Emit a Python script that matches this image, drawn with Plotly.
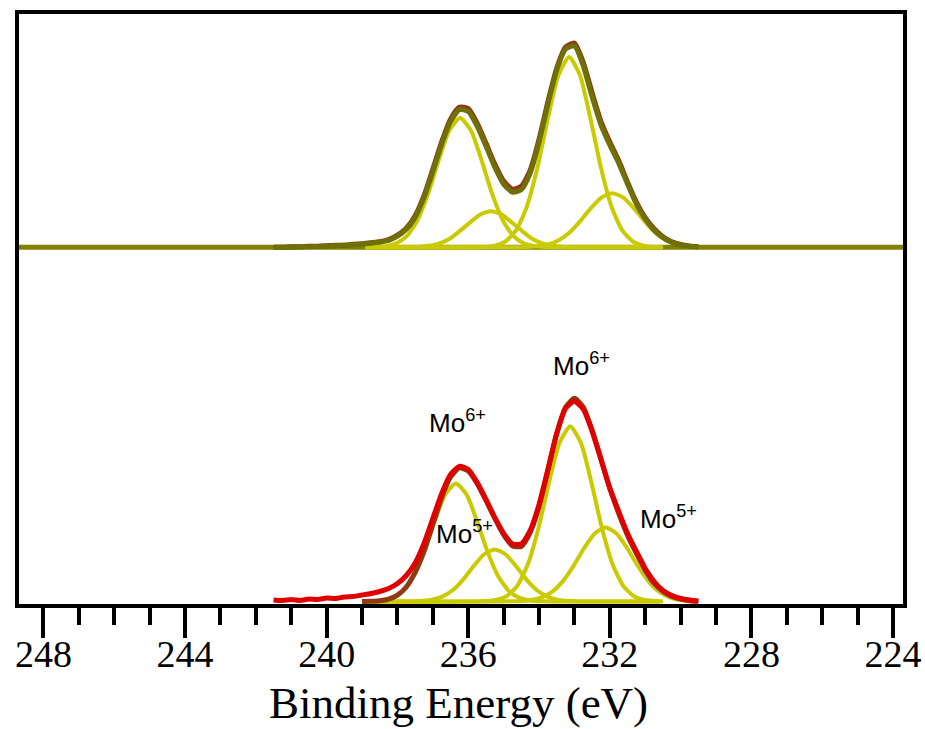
import plotly.graph_objects as go

# ---------------- data ----------------
# Binding-energy grid for the measured / fitted envelopes (eV)
E_GRID = [229.5, 229.75, 230.0, 230.25, 230.5, 230.75, 231.0, 231.25, 231.5, 231.75,
          232.0, 232.25, 232.5, 232.75, 233.0, 233.25, 233.5, 233.75, 234.0, 234.25,
          234.5, 234.75, 235.0, 235.25, 235.5, 235.75, 236.0, 236.25, 236.5, 236.75,
          237.0, 237.25, 237.5, 237.75, 238.0, 238.25, 238.5, 238.75, 239.0]
E_TAIL = [239.25, 239.5, 239.75, 240.0, 240.25, 240.5, 240.75, 241.0, 241.25, 241.5]

# Lower spectrum: fitted envelope (brown) and measured data (red)
bottom_fit = [0.2, 0.8, 2.5, 5.0, 10.0, 18.0, 31.0, 48.0, 66.0, 88.0,
              113.0, 142.0, 171.0, 194.0, 203.0, 194.0, 168.0, 131.0, 95.0, 69.0,
              55.0, 55.5, 66.5, 83.0, 101.0, 118.0, 130.5, 133.5, 124.5, 104.0,
              77.0, 50.0, 29.0, 14.5, 6.4, 2.4, 0.8, 0.2, 0.0]
bottom_data = [0.5, 1.5, 3.0, 6.0, 11.0, 20.0, 33.0, 50.0, 68.0, 90.0,
               113.0, 142.0, 170.0, 192.0, 200.0, 193.0, 168.0, 132.0, 97.0, 71.0,
               57.5, 57.5, 68.0, 84.0, 102.0, 119.0, 132.0, 135.0, 127.0, 108.0,
               83.0, 58.0, 38.5, 26.0, 18.0, 13.0, 10.0, 8.0, 6.5]
bottom_data_tail = [5.0, 4.5, 3.0, 3.5, 2.0, 2.5, 1.0, 2.0, 1.0, 1.5]

# Upper spectrum: fitted envelope (olive) and measured data (brown)
top_fit = [0.3, 0.9, 2.2, 4.8, 9.5, 17.0, 28.0, 43.0, 63.0, 84.0,
           102.0, 122.0, 150.0, 181.0, 201.0, 198.0, 177.0, 143.0, 105.0, 74.0,
           57.5, 55.0, 63.0, 80.0, 101.0, 121.0, 135.5, 137.5, 125.5, 103.0,
           75.5, 49.5, 29.8, 17.9, 11.0, 6.8, 5.1, 4.2, 3.0]
top_fit_tail = [2.5, 2.0, 1.5, 1.0, 0.8, 0.5, 0.3, 0.0, 0.0, 0.0]
top_data = [0.5, 1.3, 2.8, 5.5, 10.5, 18.5, 29.5, 45.0, 65.0, 86.5,
            105.0, 125.5, 154.0, 184.5, 204.0, 200.0, 179.0, 145.5, 108.0, 77.0,
            61.0, 58.0, 66.0, 83.0, 104.0, 124.0, 138.5, 140.0, 128.0, 105.5,
            78.0, 51.5, 31.5, 19.0, 12.0, 7.5, 5.5, 4.5, 3.5]
top_data_tail = [3.0, 2.0, 2.0, 1.5, 1.0, 1.0, 0.5, 0.5, 0.0, 0.0]

# Fitted components, lower spectrum
bA_x = [230.5, 230.62, 231.02, 231.32, 231.62, 231.92, 232.22, 232.52, 232.82, 233.12,
        233.42, 233.72, 234.02, 234.32, 234.62, 234.92, 235.22, 235.62, 238.9]
bA_y = [0, 0.2, 1.5, 5.3, 15.4, 36.9, 72.8, 118.7, 158.7, 175.0,
        158.7, 118.7, 72.8, 36.9, 15.4, 5.3, 1.5, 0.2, 0]
bB_x = [230.6, 233.85, 234.25, 234.55, 234.85, 235.15, 235.45, 235.75, 236.05, 236.35,
        236.65, 236.95, 237.25, 237.55, 237.85, 238.15, 238.45, 238.85]
bB_y = [0, 0.14, 1.0, 3.6, 10.4, 24.9, 49.1, 80.0, 107.0, 118.0,
        107.0, 80.0, 49.1, 24.9, 10.4, 3.6, 1.0, 0.14]
bC_x = [229.72, 230.02, 230.32, 230.62, 230.92, 231.22, 231.52, 231.82, 232.12,
        232.42, 232.72, 233.02, 233.32, 233.62, 233.92, 234.22, 234.52, 238.9]
bC_y = [0.4, 1.5, 4.1, 10.0, 20.6, 36.0, 53.7, 68.3, 74.0,
        68.3, 53.7, 36.0, 20.6, 10.0, 4.1, 1.5, 0.4, 0]
bD_x = [230.6, 232.85, 233.15, 233.45, 233.75, 234.05, 234.35, 234.65, 234.95, 235.25,
        235.55, 235.85, 236.15, 236.45, 236.75, 237.05, 237.35, 237.65, 238.9]
bD_y = [0, 0.06, 0.44, 1.6, 4.6, 11.0, 21.6, 35.3, 47.2, 52.0,
        47.2, 35.3, 21.6, 11.0, 4.6, 1.6, 0.44, 0.06, 0]

# Fitted components, upper spectrum
tA_x = [230.5, 230.75, 231.05, 231.35, 231.65, 231.95, 232.25, 232.55, 232.85, 233.15,
        233.45, 233.75, 234.05, 234.35, 234.65, 234.95, 235.25, 235.55, 238.9]
tA_y = [0, 0.2, 1.6, 5.7, 16.7, 40.1, 79.0, 128.8, 172.3, 190.0,
        172.3, 128.8, 79.0, 40.1, 16.7, 5.7, 1.6, 0.2, 0]
tB_x = [230.6, 233.83, 234.13, 234.43, 234.73, 235.03, 235.33, 235.63, 235.93, 236.23,
        236.53, 236.83, 237.13, 237.43, 237.73, 238.03, 238.33, 238.63, 238.9]
tB_y = [0, 0.15, 1.1, 3.9, 11.3, 27.2, 53.7, 87.5, 117.0, 129.0,
        117.0, 87.5, 53.7, 27.2, 11.3, 3.9, 1.1, 0.15, 0]
tC_x = [230.13, 230.43, 230.73, 231.03, 231.33, 231.63, 231.93,
        232.23, 232.53, 232.83, 233.13, 233.43, 233.73, 234.03, 234.33, 238.9]
tC_y = [3.0, 7.3, 15.0, 26.3, 39.2, 49.8, 54.0,
        49.8, 39.2, 26.3, 15.0, 7.3, 3.0, 1.1, 0.3, 0]
tD_x = [230.6, 232.96, 233.26, 233.56, 233.86, 234.16, 234.46, 234.76, 235.06, 235.36,
        235.66, 235.96, 236.26, 236.56, 236.86, 237.16, 237.46, 237.76, 238.9]
tD_y = [0, 0.05, 0.3, 1.1, 3.3, 7.6, 15.6, 24.4, 32.7, 36.0,
        32.7, 24.4, 15.6, 7.6, 3.3, 1.1, 0.3, 0.05, 0]

TOP_OFFSET = 354          # vertical offset of the upper spectrum
X_RANGE = [248.69, 223.72]
Y_RANGE = [-2.5, 587]

labels = ["Mo<sup>6+</sup>", "Mo<sup>6+</sup>", "Mo<sup>5+</sup>", "Mo<sup>5+</sup>"]
label_x = [236.31, 232.81, 236.10, 230.35]
label_y = [179.5, 236.5, 68.5, 83.5]
x_title = "Binding Energy (eV)"

# ---------------- colours ----------------
YELLOW = "#CACA00"
OLIVE = "#6E7008"
OLIVE_BASE = "#828200"
BROWN = "#8E3A12"
RED = "#E00000"
SERIF = "Liberation Serif, Times New Roman, serif"

fig = go.Figure()

def line(x, y, color, width, offset=0):
    fig.add_trace(go.Scatter(x=x, y=[v + offset for v in y], mode="lines",
                             line=dict(color=color, width=width, shape="spline", smoothing=0.6),
                             hoverinfo="skip", showlegend=False))

# upper spectrum baseline across the whole frame
fig.add_shape(type="line", xref="paper", x0=0, x1=1, yref="y", y0=TOP_OFFSET, y1=TOP_OFFSET,
              line=dict(color=OLIVE_BASE, width=5), layer="below")

# upper spectrum
for cx, cy in [(tA_x, tA_y), (tB_x, tB_y), (tC_x, tC_y), (tD_x, tD_y)]:
    line(cx, cy, YELLOW, 4, TOP_OFFSET)
line(E_GRID + E_TAIL, top_data + top_data_tail, BROWN, 5, TOP_OFFSET)
line(E_GRID + E_TAIL, top_fit + top_fit_tail, OLIVE, 5, TOP_OFFSET)

# lower spectrum
for cx, cy in [(bA_x, bA_y), (bB_x, bB_y), (bC_x, bC_y), (bD_x, bD_y)]:
    line(cx, cy, YELLOW, 4)
line(E_GRID, bottom_fit, BROWN, 5)
line(E_GRID + E_TAIL, bottom_data + bottom_data_tail, RED, 5)

for t, lx, ly in zip(labels, label_x, label_y):
    fig.add_annotation(x=lx, y=ly, text=t, showarrow=False, xanchor="center", yanchor="middle",
                       font=dict(family="Liberation Sans, Arial, sans-serif", size=26, color="black"))

# axis title as a paper-positioned text
fig.add_annotation(x=0.497, y=-0.168, xref="paper", yref="paper", text=x_title, showarrow=False,
                   xanchor="center", yanchor="middle",
                   font=dict(family=SERIF, size=45, color="black"))

fig.update_layout(
    width=925, height=729,
    margin=dict(l=19, r=22, t=14, b=125, autoexpand=False),
    paper_bgcolor="white", plot_bgcolor="white",
    showlegend=False,
    xaxis=dict(range=X_RANGE, tickmode="linear", tick0=224, dtick=4, automargin=False,
               ticks="outside", ticklen=30, tickwidth=4, tickcolor="black",
               minor=dict(dtick=1, tick0=224, ticks="outside", ticklen=17, tickwidth=4, tickcolor="black"),
               showline=True, linewidth=4, linecolor="black", mirror=True,
               showgrid=False, zeroline=False, layer="below traces",
               ticklabelstandoff=-17,
               tickfont=dict(family=SERIF, size=38, color="black")),
    yaxis=dict(range=Y_RANGE, showticklabels=False, ticks="", showgrid=False, zeroline=False,
               automargin=False,
               showline=True, linewidth=4, linecolor="black", mirror=True),
)

fig.write_html("out.html", config={"displayModeBar": False},
               post_script="document.body.style.margin='0px';document.body.style.overflow='hidden';")
